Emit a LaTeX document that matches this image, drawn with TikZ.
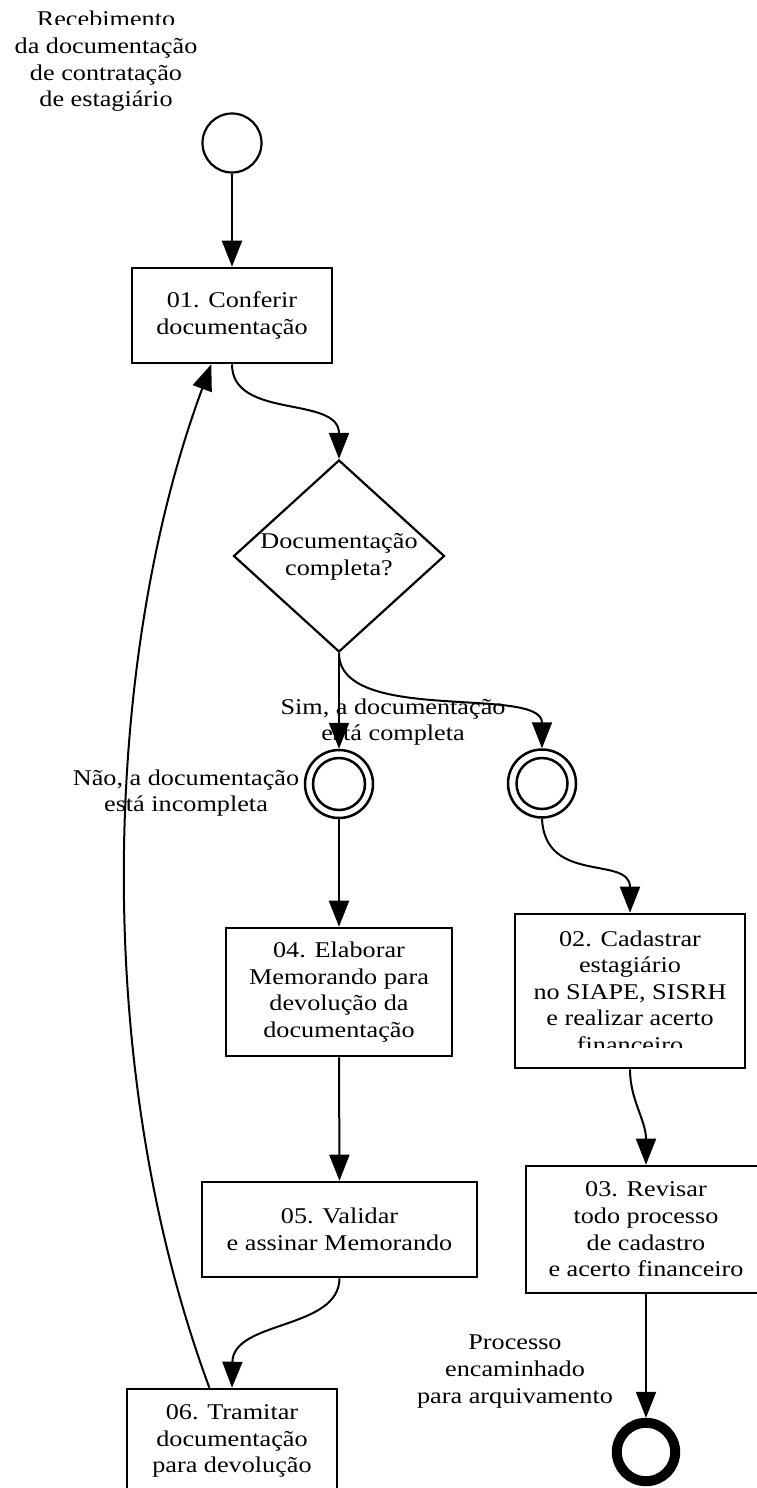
\documentclass[tikz,border=0pt]{standalone}
\usepackage{fontspec}
\setmainfont{Liberation Serif}[FakeStretch=1.165]
\usetikzlibrary{arrows.meta,shapes.geometric}
\newcommand\flowfont{\fontsize{22.5}{26.6}\selectfont}

\begin{document}
\begin{tikzpicture}[x=1pt,y=-1pt,
  task/.style={draw, line width=2.6pt, fill=white, inner sep=0pt, align=center, font=\flowfont},
  txt/.style={align=center, font=\flowfont, inner sep=0pt},
  flow/.style={line width=2pt, -{Triangle[length=26pt,width=20pt]}},
  startev/.style={circle, draw, line width=2.2pt, minimum size=59pt, inner sep=0pt},
  midev/.style={circle, draw, line width=2.5pt, minimum size=68pt, inner sep=0pt},
  endev/.style={circle, draw, line width=10pt, minimum size=58.4pt, inner sep=0pt},
  gate/.style={diamond, draw, line width=2.2pt, minimum width=211pt, minimum height=192pt, inner sep=0pt},
]
\useasboundingbox (0,0) rectangle (757,1488);

% start event and its caption (first line cut off at its foot)
\node[startev] (s) at (232,143) {};
\begin{scope}
  \clip (0,0) rectangle (260,25) (0,33) rectangle (260,125);
  \node[txt] (scap) at (106,61.5) {Recebimento\\da documentação\\de contratação\\de estagiário};
\end{scope}

% tasks
\node[task, minimum width=200pt, minimum height=95pt] (t1) at (232,315.5) {01. Conferir\\documentação};

\node[gate] (g) at (339,556) {};
\node[txt] (gt) at (339,557) {Documentação\\completa?};

\node[midev] (c1) at (339,784) {};
\draw[line width=2.5pt] (c1.center) circle[radius=26pt];
\node[midev] (c2) at (542,783.5) {};
\draw[line width=2.5pt] (c2.center) circle[radius=25.5pt];

\node[task, minimum width=226pt, minimum height=128pt] (t4) at (339,992) {04. Elaborar\\Memorando para\\devolução da\\documentação};

% task 02: last text line is cut by the text area
\node[task, minimum width=230pt, minimum height=154pt] (t2) at (630,991) {};
\begin{scope}
  \clip (517,916) rectangle (743,1047.5);
  \node[txt] (t2t) at (630,991.5) {02. Cadastrar\\estagiário\\no SIAPE, SISRH\\e realizar acerto\\financeiro};
\end{scope}

\node[task, minimum width=240pt, minimum height=127pt] (t3) at (646,1229.5) {03. Revisar\\todo processo\\de cadastro\\e acerto financeiro};

\node[endev] (e) at (646,1452) {};
\node[txt] (ecap) at (515,1371.5) {Processo\\encaminhado\\para arquivamento};

\node[task, minimum width=275pt, minimum height=95pt] (t5) at (339.5,1229.5) {05. Validar\\e assinar Memorando};

\node[task, minimum width=210pt, minimum height=104pt] (t6) at (232,1441) {06. Tramitar\\documentação\\para devolução};

% branch captions
\node[txt] (yes) at (393,722) {Sim, a documentação\\está completa};
\node[txt] (no) at (186,793) {Não, a documentação\\está incompleta};

% sequence flows
\draw[flow] (s) -- (t1);
\draw[flow] (t1.south) .. controls (232,420) and (339,395) .. (g.north);
\draw[flow] (g.south) -- (c1.north);
\draw[flow] (g.south) .. controls (339,725) and (542,685) .. (c2.north);
\draw[flow] (c1.south) -- (t4.north);
\draw[flow] (c2.south) .. controls (545,885) and (630,855) .. (t2.north);
\draw[flow] (t2.south) .. controls (630,1100) and (646,1120) .. (t3.north);
\draw[flow] (t3.south) -- (e.north);
\draw[flow] (t4.south) -- (t5.north);
\draw[flow] (t5.south) .. controls (339,1330) and (233,1320) .. (t6.north);
\draw[flow] (t6.113) .. controls (88,1060) and (105,650) .. (t1.247);
\end{tikzpicture}
\end{document}
